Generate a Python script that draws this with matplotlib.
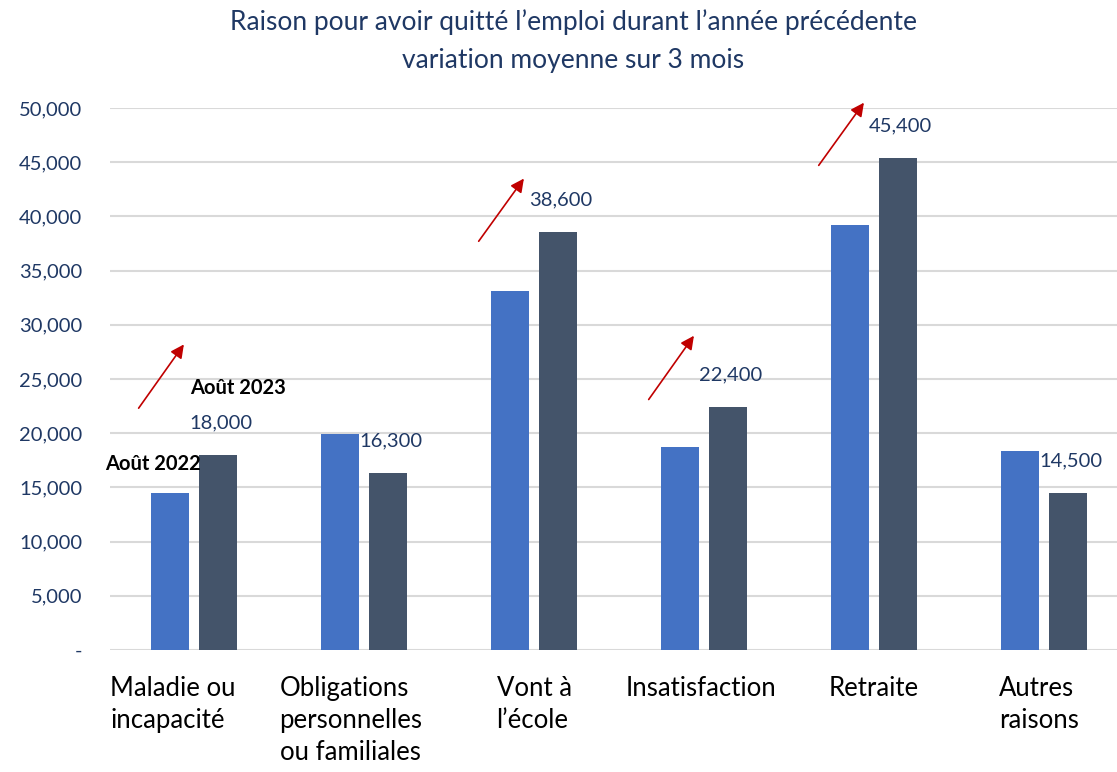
import numpy as np
import matplotlib.pyplot as plt
from matplotlib.transforms import ScaledTranslation

# data
categories = ["Maladie ou\nincapacité", "Obligations\npersonnelles\nou familiales",
              "Vont à\nl\u2019école", "Insatisfaction", "Retraite", "Autres\nraisons"]
aout_2022 = [14500, 19900, 33100, 18700, 39200, 18400]
aout_2023 = [18000, 16300, 38600, 22400, 45400, 14500]
yticks = [0, 5000, 10000, 15000, 20000, 25000, 30000, 35000, 40000, 45000, 50000]
ytick_labels = ["-"] + ["{:,}".format(v) for v in yticks[1:]]

# red arrows: (category index, y start, y end)
arrows = [(0, 22100, 28400), (2, 37500, 43700), (3, 22900, 29200), (4, 44500, 50700)]
# small horizontal nudges of the category labels (pixels)
label_shift = [-21, -13, 0, -3, 0, -5]

navy = "#1F3864"
plt.rcParams['font.family'] = ['Lato', 'DejaVu Sans']

fig = plt.figure(figsize=(11.17, 7.72), dpi=100)
ax = fig.add_axes([110/1117, 1 - 650/772, 1 - 110/1117, (650 - 108)/772])

x = np.arange(len(categories))
w = 0.224
off = 0.141
ax.bar(x - off, aout_2022, w, color="#4472C4", zorder=3)
ax.bar(x + off, aout_2023, w, color="#44546A", zorder=3)

for xi, v in zip(x, aout_2023):
    ax.annotate("{:,}".format(v), (xi + off, v), xytext=(2, 17), textcoords="offset points",
                ha="center", va="bottom", color=navy, fontsize=14.5)

for c, y0, y1 in arrows:
    ax.annotate("", xy=(c - 0.05, y1), xytext=(c - 0.335, y0),
                arrowprops=dict(arrowstyle="-|>", color="#C00000", lw=1.2, mutation_scale=20),
                annotation_clip=False)

ax.text(-0.52, 17200, "Août 2022", fontsize=14.5, fontweight="bold", color="black", va="center")
ax.text(-0.025, 24200, "Août 2023", fontsize=14.5, fontweight="bold", color="black", va="center")

ax.set_ylim(0, 50000)
ax.set_xlim(-0.494, 5.429)
ax.set_yticks(yticks)
ax.set_yticklabels(ytick_labels, color=navy, fontsize=14.5)
ax.set_xticks(x)
ax.set_xticklabels([])
# category labels drawn as text so they can be nudged
for xi, lab, dx in zip(x, categories, label_shift):
    tr = ax.get_xaxis_transform() + ScaledTranslation(dx / 100, -0.26, fig.dpi_scale_trans)
    ax.text(xi, 0, lab, transform=tr, ha="center", va="top", multialignment="left",
            fontsize=18.5, color="black", linespacing=1.35, clip_on=False)
ax.tick_params(axis="both", length=0)
ax.tick_params(axis="y", pad=20)
ax.yaxis.grid(True, color="#D9D9D9", lw=1.5, zorder=0)
for s in ax.spines.values():
    s.set_visible(False)

fig.text(0.513, 0.988, "Raison pour avoir quitté l\u2019emploi durant l\u2019année précédente\nvariation moyenne sur 3 mois",
         ha="center", va="top", color=navy, fontsize=19, linespacing=1.65)

fig.savefig("out.png", dpi=100)
